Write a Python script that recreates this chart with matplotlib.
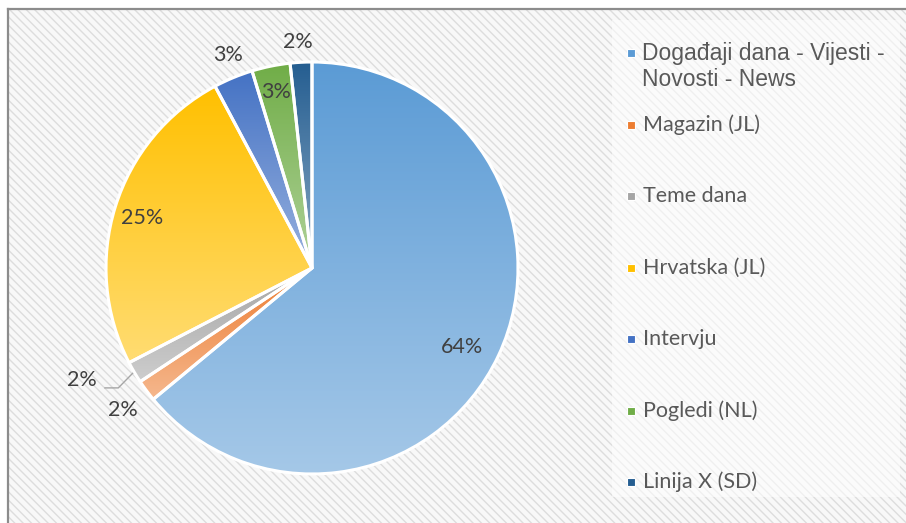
import numpy as np
import matplotlib
matplotlib.use('Agg')
import matplotlib.pyplot as plt
import matplotlib.colors as mcolors
from matplotlib.patches import Rectangle
from matplotlib.lines import Line2D

# ---- data ----
categories = ['Događaji dana - Vijesti -\nNovosti - News', 'Magazin (JL)', 'Teme dana',
              'Hrvatska (JL)', 'Intervju', 'Pogledi (NL)', 'Linija X (SD)']
values = [64.0, 1.7, 1.7, 24.8, 3.1, 3.0, 1.7]
colors = ['#5B9BD5', '#ED7D31', '#A5A5A5', '#FFC000', '#4472C4', '#70AD47', '#255E91']

# ---- layout (label placement) ----
label_dist = [0.82, 1.15, 1.24, 0.86, 1.11, 0.87, 1.10]
label_angle_off = [-2.5, 0.4, -4.5, 1.0, -0.9, 0.1, 0.5]

W, H = 906, 523
fig = plt.figure(figsize=(W / 100, H / 100), dpi=100)
fig.patch.set_facecolor('white')

plt.rcParams['hatch.linewidth'] = 1.0
bg = Rectangle((8 / W, -0.05), 1.1, 1 - 9 / H + 0.05, transform=fig.transFigure,
               facecolor='#F8F8F8', edgecolor='#DDDDDD', hatch='\\' * 4, linewidth=0, zorder=-3)
fig.patches.append(bg)
leg_bg = Rectangle((612 / W, 1 - 497 / H), (900 - 612) / W, (497 - 20) / H,
                   transform=fig.transFigure, facecolor='white', alpha=0.55,
                   linewidth=0, zorder=-2)
fig.patches.append(leg_bg)
fig.lines.append(Line2D([8 / W, 1.01], [1 - 9 / H, 1 - 9 / H], transform=fig.transFigure,
                        color='#8C8C8C', linewidth=1.6, zorder=-1))
fig.lines.append(Line2D([8 / W, 8 / W], [1 - 9 / H, -0.01], transform=fig.transFigure,
                        color='#8C8C8C', linewidth=1.6, zorder=-1))

cx, cy, R = 312, 268, 206
ax = fig.add_axes([(cx - R) / W, (H - cy - R) / H, 2 * R / W, 2 * R / H])
ax.patch.set_alpha(0)
ax.set_zorder(1)

wedges, texts, autotexts = ax.pie(
    values, colors=colors, startangle=90, counterclock=False,
    autopct=lambda p: f'{p:.0f}%', pctdistance=0.8,
    wedgeprops=dict(edgecolor='white', linewidth=2.2),
    textprops=dict(color='#404040', fontsize=15.5, family=['Lato', 'DejaVu Sans']))

# gradient fills clipped to each wedge
for w, c in zip(wedges, colors):
    base = np.array(mcolors.to_rgb(c))
    light = base * 0.55 + 0.45
    t = np.linspace(0, 1, 256)[:, None, None]
    img = base[None, None, :] * (1 - t) + light[None, None, :] * t
    bb = w.get_path().get_extents()
    im = ax.imshow(img, extent=[bb.x0, bb.x1, bb.y0, bb.y1], origin='upper',
                   aspect='auto', zorder=1, interpolation='bilinear')
    im.set_clip_path(w)
    w.set_facecolor('none')
    w.set_zorder(2)

for i, (w, at) in enumerate(zip(wedges, autotexts)):
    ang = np.deg2rad((w.theta1 + w.theta2) / 2 + label_angle_off[i])
    at.set_position((label_dist[i] * np.cos(ang), label_dist[i] * np.sin(ang)))
    at.set_zorder(5)

# leader line for 'Teme dana' label
w = wedges[2]
mid = np.deg2rad((w.theta1 + w.theta2) / 2)
lx, ly = autotexts[2].get_position()
ax.plot([1.01 * np.cos(mid), lx + 0.175, lx + 0.11],
        [1.01 * np.sin(mid), ly - 0.04, ly - 0.04], color='#A6A6A6', lw=1, zorder=4,
        clip_on=False)

ax.set_xlim(-1, 1)
ax.set_ylim(-1, 1)
ax.axis('off')

# legend
first_y = 53
pitch = 71.5
for i, (lab, c) in enumerate(zip(categories, colors)):
    yc = first_y + i * pitch
    fig.patches.append(Rectangle((627 / W, 1 - (yc + 4) / H), 8 / W, 8 / H,
                                 transform=fig.transFigure, facecolor=c,
                                 edgecolor='white', linewidth=0.8, zorder=3))
    if i == 0:
        fig.text(642 / W, 1 - (yc - 11) / H, lab, ha='left', va='top', fontsize=16.5,
                 color='#595959', family=['Liberation Sans', 'DejaVu Sans'],
                 linespacing=1.18, zorder=3)
    else:
        fig.text(643 / W, 1 - yc / H, lab, ha='left', va='center', fontsize=15.5,
                 color='#595959', family=['Lato', 'DejaVu Sans'], zorder=3)

fig.savefig('out.png', dpi=100)
